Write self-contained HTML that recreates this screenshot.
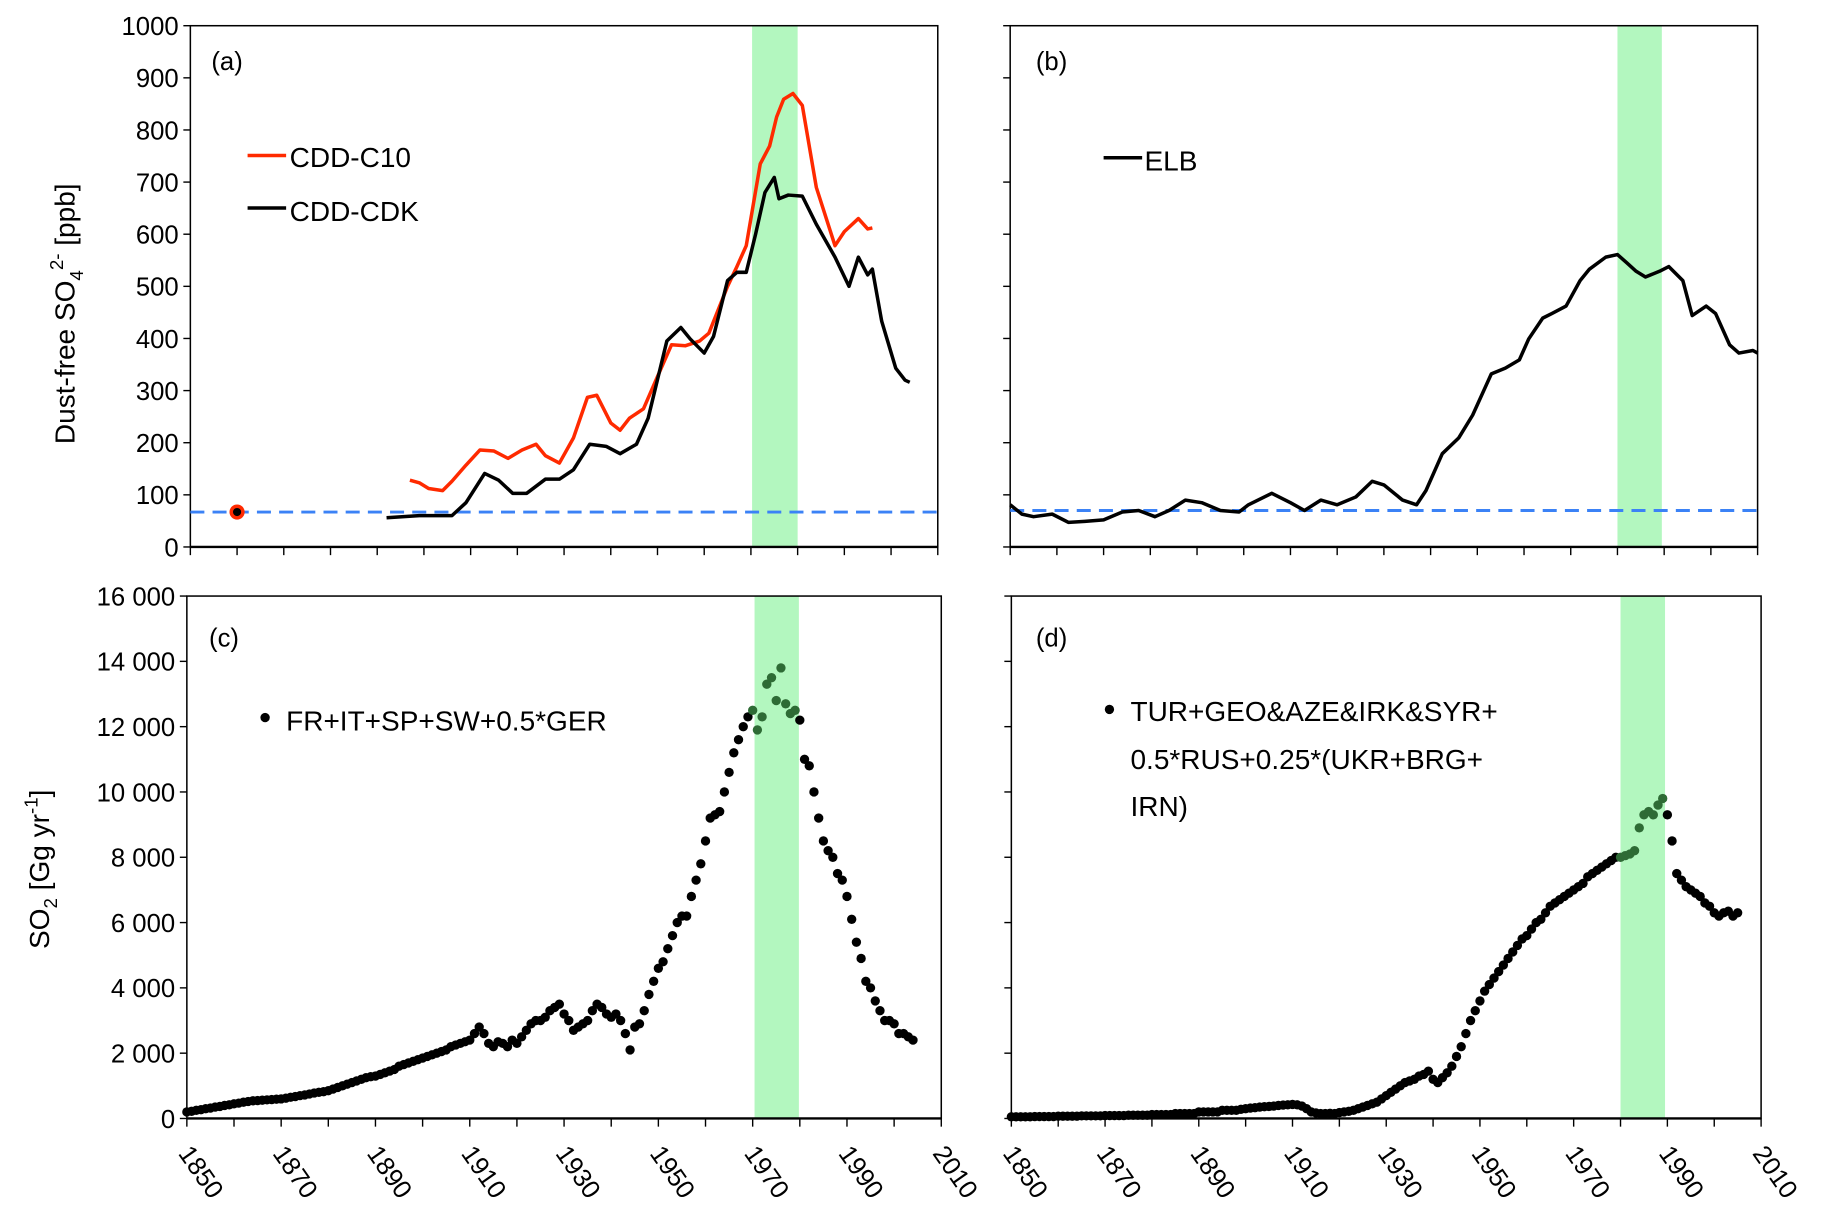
<!DOCTYPE html>
<html><head><meta charset="utf-8"><style>
html,body{margin:0;padding:0;background:#fff}
svg{display:block}
text{font-family:"Liberation Sans",sans-serif;fill:#000}
</style></head><body>
<svg id="chart" width="1830" height="1226" viewBox="0 0 1567 1049" preserveAspectRatio="none" xmlns="http://www.w3.org/2000/svg"></svg>
<script>
// ---- data ----
const cdkYears=[1892,1899,1906,1909,1913,1916,1919,1922,1926,1929,1932,1935.5,1939,1942,1945.5,1948,1952,1955,1957,1960,1962,1965,1967,1969,1971,1973,1975,1976,1978,1981,1984,1988,1991,1993,1995,1996,1998,2001,2003,2004];
const cdkVals=[56,60,60,85,141,128,103,103,130,130,148,197,193,179,197,247,395,421,399,372,404,511,527,527,600,680,709,668,675,673,619,556,500,556,522,533,433,343,320,316];
const c10Years=[1897,1899,1901,1904,1906,1909,1912,1915,1918,1921,1924,1926,1929,1932,1935,1937,1940,1942,1944,1947,1950,1953,1956,1959,1961,1965,1967,1969,1972,1974,1975.5,1977,1979,1981,1984,1988,1990,1993,1995,1996];
const c10Vals=[128,123,112,108,126,157,186,184,170,186,197,175,161,209,287,291,238,224,247,265,327,388,386,395,410,500,538,578,735,769,825,859,870,847,690,578,605,630,610,612];
const elbYears=[1850,1852.5,1855,1859,1862.5,1866,1870,1874,1877.5,1881,1884,1887.5,1891,1895,1899,1901,1906,1910,1913,1916.5,1920,1924,1927.5,1930,1934,1937,1939,1942.5,1946,1949,1953,1956,1959,1961,1964,1966,1969,1972,1974,1977.5,1980,1982,1984,1986,1989,1991,1994,1996,1999,2001,2004,2006,2009,2010];
const elbVals=[81,63,58,63,47,49,52,67,70,58,70,90,85,70,67,81,103,85,70,90,81,96,126,119,90,81,108,179,209,253,332,343,359,399,439,448,462,511,533,556,561,545,529,518,529,538,511,444,462,448,388,372,377,372];
const baselineA=67, baselineB=70;
const cStart=1850;
// values in thousand Gg/yr
const cVals=[0.2,0.22,0.25,0.27,0.3,0.32,0.35,0.37,0.4,0.42,
0.45,0.47,0.5,0.52,0.54,0.55,0.56,0.57,0.58,0.59,
0.6,0.62,0.65,0.67,0.7,0.72,0.75,0.78,0.8,0.82,
0.85,0.9,0.95,1.0,1.05,1.1,1.15,1.2,1.25,1.28,
1.3,1.35,1.4,1.45,1.5,1.6,1.65,1.7,1.75,1.8,
1.85,1.9,1.95,2.0,2.05,2.1,2.2,2.25,2.3,2.35,
2.4,2.6,2.8,
2.6,2.3,2.2,2.35,2.3,2.2,2.4,2.3,2.5,2.7,2.9,3.0,3.0,3.1,3.3,3.4,
3.5,3.2,3.0,2.7,2.8,2.9,3.0,3.3,3.5,3.4,3.2,3.1,3.2,3.0,2.6,2.1,2.8,2.9,3.3,3.8,4.2,4.6,4.8,5.2,5.6,6.0,6.2,6.2,6.8,7.3,7.8,8.5,9.2,9.3,9.4,10.0,10.6,11.2,11.6,12.0,12.3,12.5,11.9,12.3,13.3,13.5,12.8,13.8,12.7,12.4,12.5,12.2,11.0,10.8,10.0,9.2,8.5,8.2,8.0,7.5,7.3,6.8,6.1,5.4,4.9,4.2,4.0,3.6,3.3,3.0,3.0,2.9,2.6,2.6,2.5,2.4];
const dStart=1850;
const dVals=[0.05,0.05,0.05,0.05,0.05,0.06,0.06,0.06,0.06,0.06,
0.07,0.07,0.07,0.07,0.07,0.08,0.08,0.08,0.08,0.08,
0.09,0.09,0.09,0.09,0.09,0.1,0.1,0.1,0.1,0.1,
0.12,0.12,0.12,0.12,0.12,0.15,0.15,0.15,0.15,0.15,
0.2,0.2,0.2,0.2,0.2,0.25,0.25,0.25,0.25,0.28,
0.3,0.32,0.33,0.35,0.36,0.37,0.38,0.4,0.41,0.42,0.43,0.42,0.38,
0.3,0.2,0.17,0.15,0.15,0.16,0.15,0.18,0.2,0.22,0.25,0.3,0.35,0.4,0.45,0.5,0.6,
0.7,0.8,0.9,1.0,1.1,1.15,1.2,1.3,1.35,1.45,1.2,1.1,1.25,1.4,1.6,1.9,2.2,2.6,3.0,3.3,
3.6,3.9,4.1,4.3,4.5,4.7,4.9,5.1,5.3,5.5,5.6,5.8,6.0,6.1,6.3,6.5,6.6,6.7,6.8,6.9,7.0,7.1,7.2,7.4,7.5,7.6,7.7,7.8,7.9,8.0,8.0,8.05,8.1,8.2,8.9,9.3,9.4,9.3,9.6,9.8,9.3,8.5,7.5,7.3,7.1,7.0,6.9,6.8,6.6,6.5,6.3,6.2,6.3,6.35,6.2,6.3];
const yTicksTop=[0,100,200,300,400,500,600,700,800,900,1000];
const yTicksBot=[0,2000,4000,6000,8000,10000,12000,14000,16000];
const yTickLabelsBot=["0","2 000","4 000","6 000","8 000","10 000","12 000","14 000","16 000"];
const xTicks=[1850,1860,1870,1880,1890,1900,1910,1920,1930,1940,1950,1960,1970,1980,1990,2000,2010];
const xLabels=[1850,1870,1890,1910,1930,1950,1970,1990,2010];
const bandA=[1970.25,1980], bandB=[1980,1989.5], bandC=[1970.4,1979.8], bandD=[1980,1989.5];

// ---- drawing ----
const svg=document.getElementById('chart');
const NS='http://www.w3.org/2000/svg';
function mk(tag,attrs,parent){const e=document.createElementNS(NS,tag);for(const k in attrs)e.setAttribute(k,attrs[k]);(parent||svg).appendChild(e);return e;}
function panel(p){
  const xs=y=>p.x0+(y-1850)/(160)*(p.x1-p.x0);
  const ys=v=>p.y1-(v/p.vmax)*(p.y1-p.y0);
  p.xs=xs;p.ys=ys;return p;
}
const A=panel({x0:163,x1:803,y0:22,y1:468,vmax:1000});
const B=panel({x0:865,x1:1505,y0:22,y1:468,vmax:1000});
const C=panel({x0:160,x1:806,y0:510,y1:957,vmax:16000});
const D=panel({x0:866,x1:1508,y0:510,y1:957,vmax:16000});

function band(p,b,name){
  const r=mk('rect',{x:p.xs(b[0]),y:p.y0,width:p.xs(b[1])-p.xs(b[0]),height:p.y1-p.y0,fill:'#b3f7bf'});
  
  
}
function frame(p,name,yt,ytl,labels){
  const g=mk('g',{});
  
  
  mk('rect',{x:p.x0,y:p.y0,width:p.x1-p.x0,height:p.y1-p.y0,fill:'none',stroke:'#000','stroke-width':1.3},g);
  mk('line',{x1:p.x0,y1:p.y1,x2:p.x1,y2:p.y1,stroke:'#000','stroke-width':2},g);
  yt.forEach((v,i)=>{
    const y=p.ys(v);
    mk('line',{x1:p.x0-6,y1:y,x2:p.x0,y2:y,stroke:'#000','stroke-width':1.2},g);
    if(ytl){const t=mk('text',{x:p.x0-10,y:y+8,'text-anchor':'end','font-size':22},g);t.textContent=ytl[i];
      
      }
  });
  xTicks.forEach(yr=>{
    const x=p.xs(yr);
    mk('line',{x1:x,y1:p.y1,x2:x,y2:p.y1+7,stroke:'#000','stroke-width':1.2},g);
  });
  if(labels){
    xLabels.forEach(yr=>{
      const x=p.xs(yr);
      const t=mk('text',{x:0,y:0,'font-size':22,transform:`translate(${x-8},${p.y1+30}) rotate(55)`},g);
      t.textContent=yr;
      
      
    });
  }
}
function line(p,xsArr,vs,color,w,name){
  const d=xsArr.map((yr,i)=>(i?'L':'M')+p.xs(yr).toFixed(1)+','+p.ys(vs[i]).toFixed(1)).join(' ');
  const e=mk('path',{d:d,fill:'none',stroke:color,'stroke-width':w,'stroke-linejoin':'round'});
  
  
}
function dash(p,v,name){
  const e=mk('line',{x1:p.x0,x2:p.x1,y1:p.ys(v),y2:p.ys(v),stroke:'#3b82f6','stroke-width':2.5,'stroke-dasharray':'12,7'});
  
  
}
function dots(p,start,vals,bnd,name){
  const g=mk('g',{});
  
  
  vals.forEach((v,i)=>{
    const yr=start+i;
    const inb=yr>=bnd[0]-0.5&&yr<=bnd[1];
    const c=mk('circle',{cx:p.xs(yr),cy:p.ys(v*1000),r:4,fill:inb?'#2e6b35':'#000'},g);
    
    
  });
}
function txt(x,y,s,size,name,extra){
  const t=mk('text',Object.assign({x:x,y:y,'font-size':size},extra||{}));
  t.textContent=s;
  
  
  return t;
}

band(A,bandA,'highlight-band-a');band(B,bandB,'highlight-band-b');band(C,bandC,'highlight-band-c');band(D,bandD,'highlight-band-d');
frame(A,'panel-a-axes',yTicksTop,yTicksTop.map(String),false);
frame(B,'panel-b-axes',yTicksTop,null,false);
frame(C,'panel-c-axes',yTicksBot,yTickLabelsBot,true);
frame(D,'panel-d-axes',yTicksBot,null,true);

dash(A,baselineA,'baseline-a');dash(B,baselineB,'baseline-b');
line(A,c10Years,c10Vals,'#ff2a00',3,'series-cdd-c10');
line(A,cdkYears,cdkVals,'#000',3,'series-cdd-cdk');
line(B,elbYears,elbVals,'#000',3,'series-elb');
const rd=mk('circle',{cx:A.xs(1860),cy:A.ys(baselineA),r:5,fill:'#000',stroke:'#ff2a00','stroke-width':3});


dots(C,cStart,cVals,bandC,'series-western-europe-so2');
dots(D,dStart,dVals,bandD,'series-eastern-so2');

// panel labels
txt(181,60,'(a)',22,'panel-label-a');txt(887,60,'(b)',22,'panel-label-b');
txt(179,553,'(c)',22,'panel-label-c');txt(887,553,'(d)',22,'panel-label-d');
// legends
let l=mk('line',{x1:212,x2:245,y1:133,y2:133,stroke:'#ff2a00','stroke-width':3});
txt(248,143,'CDD-C10',24,'legend-entry-cdd-c10');
l=mk('line',{x1:212,x2:245,y1:178,y2:178,stroke:'#000','stroke-width':3});
txt(248,189,'CDD-CDK',24,'legend-entry-cdd-cdk');
l=mk('line',{x1:945,x2:978,y1:135,y2:135,stroke:'#000','stroke-width':3});
txt(980,146,'ELB',24,'legend-entry-elb');
l=mk('circle',{cx:227,cy:614,r:4,fill:'#000'});
txt(245,625,'FR+IT+SP+SW+0.5*GER',24,'legend-entry-c');
l=mk('circle',{cx:950,cy:607,r:4,fill:'#000'});
txt(968,617,'TUR+GEO&AZE&IRK&SYR+',24,'legend-entry-d-line1');
txt(968,658,'0.5*RUS+0.25*(UKR+BRG+',24,'legend-entry-d-line2');
txt(968,698,'IRN)',24,'legend-entry-d-line3');
// axis titles
let t=mk('text',{x:0,y:0,'font-size':24,transform:'translate(64,380) rotate(-90)'});
t.innerHTML='Dust-free SO<tspan font-size="16" dy="7">4</tspan><tspan font-size="16" dy="-17">2-</tspan><tspan dy="10"> [ppb]</tspan>';

t=mk('text',{x:0,y:0,'font-size':24,transform:'translate(42,812) rotate(-90)'});
t.innerHTML='SO<tspan font-size="16" dy="7">2</tspan><tspan dy="-7"> [Gg yr</tspan><tspan font-size="16" dy="-10">-1</tspan><tspan dy="10">]</tspan>';

</script>
</body></html>
